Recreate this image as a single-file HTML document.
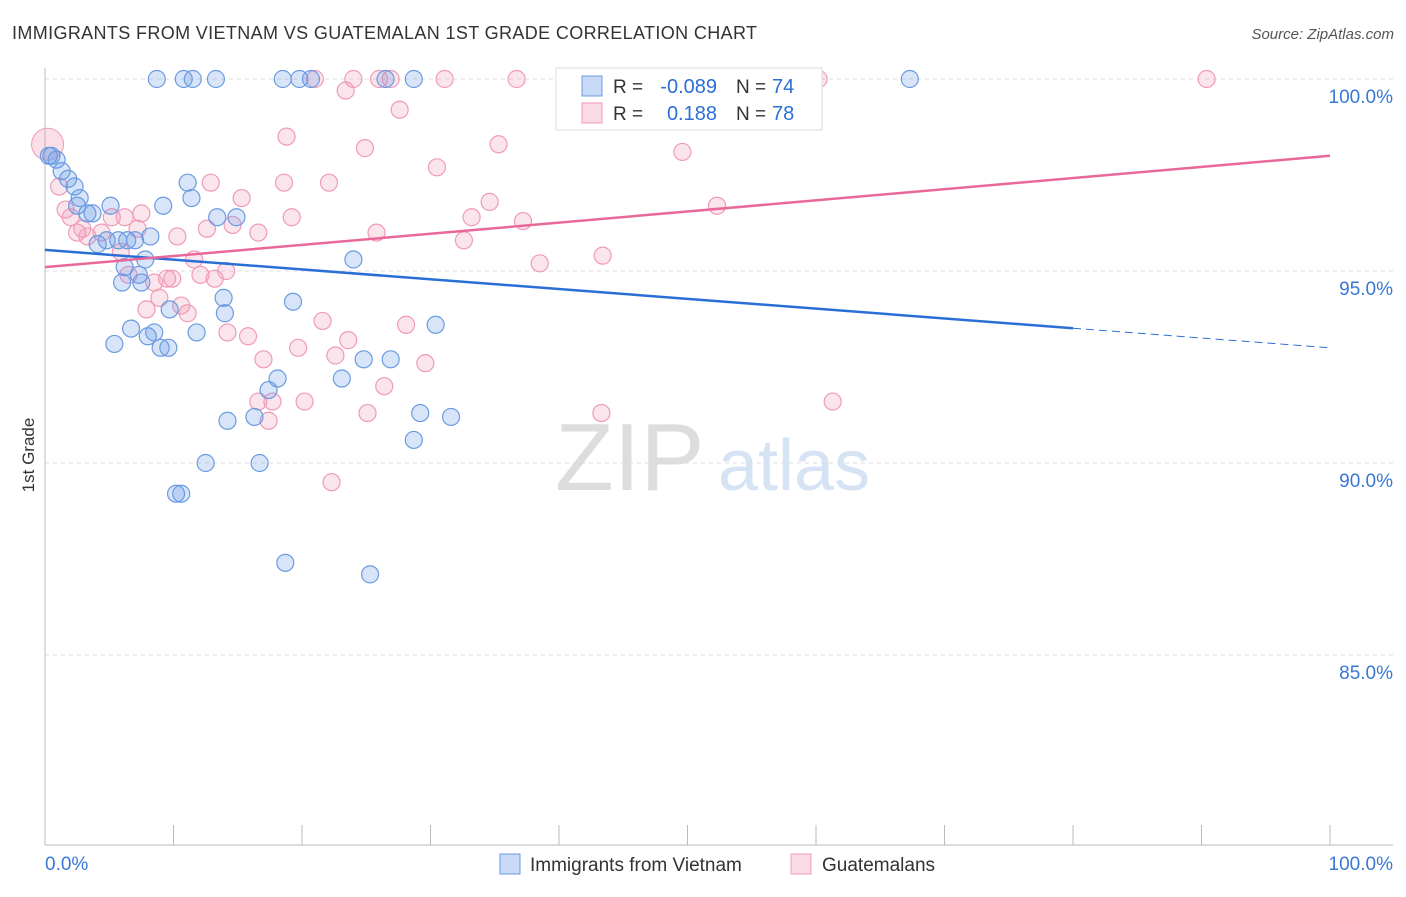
<!DOCTYPE html>
<html><head><meta charset="utf-8"><style>
body{margin:0;background:#fff;font-family:"Liberation Sans",sans-serif;}
svg text{font-family:"Liberation Sans",sans-serif;}
</style></head><body>
<svg id="chart" width="1406" height="892" xmlns="http://www.w3.org/2000/svg">
<text x="12" y="39" font-size="18" fill="#333" textLength="745">IMMIGRANTS FROM VIETNAM VS GUATEMALAN 1ST GRADE CORRELATION CHART</text>
<text x="1394" y="39" font-size="15" fill="#555" text-anchor="end" font-style="italic">Source: ZipAtlas.com</text>
<text x="34" y="455" font-size="17" fill="#333" text-anchor="middle" transform="rotate(-90 34 455)">1st Grade</text>
<text x="555" y="490" font-size="96" fill="#ddd" font-family="Liberation Serif">ZIP</text>
<text x="718" y="490" font-size="72" fill="#d6e3f5">atlas</text>
<g id="grid"></g><g id="axes"></g><g id="pts"></g><g id="trends"></g>
<g>
<rect x="556" y="68" width="266" height="62" fill="#fff" stroke="#ddd"/>
<rect x="582" y="76" width="20" height="20" fill="rgba(100,150,230,0.35)" stroke="#6a9be0"/>
<rect x="582" y="103" width="20" height="20" fill="rgba(240,150,180,0.35)" stroke="#f09ab8"/>
<text x="613" y="93" font-size="19" fill="#333">R =</text>
<text x="717" y="93" font-size="20" fill="#2a6fd6" text-anchor="end">-0.089</text>
<text x="736" y="93" font-size="19" fill="#333">N =</text>
<text x="772" y="93" font-size="20" fill="#2a6fd6">74</text>
<text x="613" y="120" font-size="19" fill="#333">R =</text>
<text x="717" y="120" font-size="20" fill="#2a6fd6" text-anchor="end">0.188</text>
<text x="736" y="120" font-size="19" fill="#333">N =</text>
<text x="772" y="120" font-size="20" fill="#2a6fd6">78</text>
</g>
<g>
<rect x="500" y="854" width="20" height="20" fill="rgba(100,150,230,0.35)" stroke="#6a9be0"/>
<text x="530" y="871" font-size="19" fill="#333">Immigrants from Vietnam</text>
<rect x="791" y="854" width="20" height="20" fill="rgba(240,150,180,0.35)" stroke="#f09ab8"/>
<text x="822" y="871" font-size="19" fill="#333">Guatemalans</text>
</g>
</svg>
<script>
const yTicks=[100,95,90,85];
const yTickLabels=["100.0%","95.0%","90.0%","85.0%"];
const xTickVals=[0,10,20,30,40,50,60,70,80,90,100];
const blueX=[8.7,10.8,11.5,13.3,18.5,19.8,20.7,26.5,28.7,67.3,0.3,0.5,0.9,1.3,1.8,2.3,2.7,2.5,3.3,3.7,5.1,9.2,11.1,11.4,13.4,14.9,4.1,4.8,5.7,6.4,7.0,8.2,7.8,6.2,6.0,7.3,7.5,24.0,13.9,19.3,9.7,14.0,30.4,6.7,8.5,8.0,11.8,5.4,9.0,9.6,24.8,26.9,18.1,23.1,17.4,29.2,31.6,14.2,16.3,28.7,12.5,16.7,10.2,10.6,18.7,25.3];
const blueY=[100,100,100,100,100,100,100,100,100,100,98.0,98.0,97.9,97.6,97.4,97.2,96.9,96.7,96.5,96.5,96.7,96.7,97.3,96.9,96.4,96.4,95.7,95.8,95.8,95.8,95.8,95.9,95.3,95.1,94.7,94.9,94.7,95.3,94.3,94.2,94.0,93.9,93.6,93.5,93.4,93.3,93.4,93.1,93.0,93.0,92.7,92.7,92.2,92.2,91.9,91.3,91.2,91.1,91.2,90.6,90.0,90.0,89.2,89.2,87.4,87.1];
const pinkX=[21.0,24.0,26.0,26.9,31.1,36.7,59.7,60.2,90.4,23.4,27.6,18.8,24.9,35.3,49.6,30.5,12.9,18.6,22.1,15.3,34.6,52.3,1.1,1.6,2.0,2.5,3.3,2.9,4.4,5.2,6.2,7.5,7.2,10.3,12.6,14.6,16.6,19.2,25.8,33.2,37.2,32.6,5.9,11.6,38.5,43.4,9.5,9.9,12.1,14.1,13.2,8.5,6.5,8.9,10.6,11.1,7.9,21.6,28.1,14.2,15.8,23.6,19.7,17.0,22.6,29.6,26.4,16.6,17.7,20.2,17.4,25.1,43.3,61.3,22.3];
const pinkY=[100,100,100,100,100,100,100,100,100,99.7,99.2,98.5,98.2,98.3,98.1,97.7,97.3,97.3,97.3,96.9,96.8,96.7,97.2,96.6,96.4,96.0,95.9,96.1,96.0,96.4,96.4,96.5,96.1,95.9,96.1,96.2,96.0,96.4,96.0,96.4,96.3,95.8,95.5,95.3,95.2,95.4,94.8,94.8,94.9,95.0,94.8,94.7,94.9,94.3,94.1,93.9,94.0,93.7,93.6,93.4,93.3,93.2,93.0,92.7,92.8,92.6,92.0,91.6,91.6,91.6,91.1,91.3,91.3,91.6,89.5];
const blueTrend=[95.55,93.0];
const pinkTrend=[95.1,98.0];
const NS='http://www.w3.org/2000/svg';
const xs=v=>45+v*12.85, ys=v=>79+(100-v)*38.4;
function mk(t,a,p){const e=document.createElementNS(NS,t);for(const k in a)e.setAttribute(k,a[k]);document.getElementById(p).appendChild(e);return e;}
yTicks.forEach((t,i)=>{
 const l=mk('line',{x1:45,x2:1393,y1:ys(t),y2:ys(t),stroke:'#ddd','stroke-dasharray':'4,4'},'grid');
 
 
 const tx=mk('text',{x:1393,y:ys(t)+24,'font-size':19,fill:'#3a78d6','text-anchor':'end'},'grid');
 tx.textContent=yTickLabels[i];
 
 
});
const ya=mk('line',{x1:45,x2:45,y1:68,y2:845,stroke:'#bbb'},'axes');


const xa=mk('line',{x1:45,x2:1393,y1:845,y2:845,stroke:'#bbb'},'axes');


xTickVals.forEach(v=>{const t=mk('line',{x1:xs(v),x2:xs(v),y1:825,y2:845,stroke:'#bbb'},'axes');
 
 });
const x0=mk('text',{x:45,y:870,'font-size':19,fill:'#3a78d6'},'axes');x0.textContent='0.0%';


const x1=mk('text',{x:1393,y:870,'font-size':19,fill:'#3a78d6','text-anchor':'end'},'axes');x1.textContent='100.0%';


let bp=mk('circle',{cx:xs(0.2),cy:ys(98.3),r:16,fill:'rgba(240,150,180,0.3)',stroke:'#f09ab8'},'pts');


pinkX.forEach((x,i)=>{const c=mk('circle',{cx:xs(x),cy:ys(pinkY[i]),r:8.5,fill:'rgba(240,150,180,0.25)',stroke:'#f09ab8','stroke-width':1.2},'pts');
 
 });
blueX.forEach((x,i)=>{const c=mk('circle',{cx:xs(x),cy:ys(blueY[i]),r:8.5,fill:'rgba(100,150,230,0.25)',stroke:'#6a9be0','stroke-width':1.2},'pts');
 
 });
const bAt=v=>blueTrend[0]+(blueTrend[1]-blueTrend[0])*v/100;
const t1=mk('line',{x1:xs(0),y1:ys(bAt(0)),x2:xs(80),y2:ys(bAt(80)),stroke:'#2a6fd6','stroke-width':2.5},'trends');


const t2=mk('line',{x1:xs(80),y1:ys(bAt(80)),x2:xs(100),y2:ys(bAt(100)),stroke:'#2a6fd6','stroke-width':1,'stroke-dasharray':'8,5'},'trends');


const t3=mk('line',{x1:xs(0),y1:ys(pinkTrend[0]),x2:xs(100),y2:ys(pinkTrend[1]),stroke:'#e8689a','stroke-width':2.5},'trends');


</script>
</body></html>
